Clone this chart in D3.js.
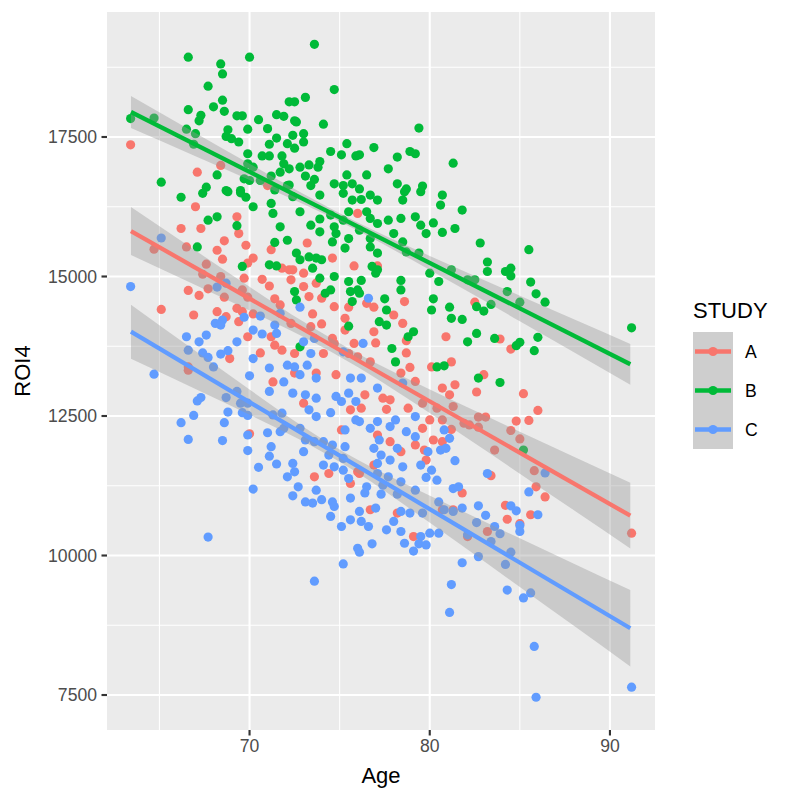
<!DOCTYPE html>
<html>
<head>
<meta charset="utf-8">
<script src="https://cdn.jsdelivr.net/npm/d3@7"></script>
<style>
  body { margin: 0; background: #fff; }
  text { font-family: "Liberation Sans", Arial, Helvetica, sans-serif; }
</style>
</head>
<body>
<div id="container"></div>
<script>
// Study A, B, C points as [Age, ROI4]
const pointsA = [
  [63.4,17360],[67.1,16870],[68.4,16990],[71.0,16630],[82.5,14540],[83.9,13880],[84.5,13700],
  [83.0,13240],[82.6,12930],[85.2,12900],[86.0,12600],[82.7,12480],[83.1,12480],[84.8,12410],
  [85.5,12420],[84.5,12240],[82.7,12300],[85.0,12090],[83.6,11890],[85.8,11520],[83.4,11430],
  [85.9,11230],[86.4,11050],[84.2,10900],[84.3,10650],[85.6,10730],[91.2,10400],[83.2,10430],
  [85.0,10570],[70.0,12180],[71.3,13110],[66.6,13320],[67.0,16250],[66.2,15860],[67.3,15860],
  [69.3,16070],[69.4,15770],[68.6,15640],[68.2,15470],[68.5,15310],[66.5,15530],[64.7,15490],
  [69.8,15560],[70.2,15330],[69.9,15240],[67.6,15220],[67.4,15040],[68.4,15000],[69.7,14970],
  [70.7,14950],[71.1,14830],[66.6,14750],[67.2,14660],[67.7,14780],[68.6,14630],[69.6,14760],
  [69.9,14630],[71.4,14600],[65.1,14410],[66.9,14310],[69.3,14430],[69.6,14370],[68.2,14370],
  [68.7,14280],[70.2,14330],[71.7,14490],[71.2,15480],[71.8,15150],[72.2,15120],[69.9,13920],
  [70.6,13630],[71.4,13770],[71.8,13680],[68.9,13530],[66.6,13380],[69.4,14190],[71.2,13920],
  [76.0,16130],[73.2,15600],[74.6,15330],[75.8,15190],[77.1,15190],[72.4,15120],[73.0,15060],
  [72.3,14940],[73.0,14820],[73.7,14880],[73.3,14640],[74.0,14610],[78.6,14550],[74.7,14460],
  [75.5,14450],[76.5,14520],[76.9,14450],[78.0,14310],[73.5,14330],[75.3,14250],[74.0,14150],
  [73.4,14100],[72.3,14160],[74.6,13890],[75.3,14040],[76.9,14010],[77.0,13810],[78.5,14160],
  [78.7,13850],[80.9,13920],[72.5,13620],[74.1,13620],[76.0,13560],[76.7,13470],[78.7,13630],
  [81.2,13470],[78.9,13370],[80.1,13380],[75.5,13620],[75.8,13800],[74.7,13800],[72.5,13270],
  [73.7,13270],[74.8,13240],[78.4,13270],[79.2,13120],[80.7,13000],[81.4,13060],[81.1,12880],
  [76.4,12880],[77.4,12820],[77.8,12790],[79.6,12730],[80.4,12640],[80.7,12430],[81.3,12670],
  [81.9,12370],[82.2,12340],[73.0,12730],[75.6,12610],[76.2,12640],[77.6,12620],[78.8,12640],
  [79.6,12280],[80.0,12430],[81.2,12260],[80.2,12070],[80.7,12040],[79.2,11980],[77.1,12160],
  [77.8,12040],[78.4,11860],[79.7,11890],[79.8,11710],[75.1,12250],[74.4,11470],[76.0,11500],
  [76.1,11470],[76.9,11620],[73.6,11410],[75.6,11290],[76.7,10820],[78.2,10760],[80.7,10820],
  [81.3,10820],[81.8,11120],[79.1,10340],[82.1,10340]
];
const pointsB = [
  [66.6,18930],[70.0,18930],[68.4,18810],[68.5,18630],[67.7,18410],[68.5,18160],[68.0,18040],
  [68.6,17960],[66.6,17990],[67.3,17890],[67.2,17790],[69.3,17880],[69.6,17880],[70.5,17810],
  [71.5,17900],[71.9,17870],[72.2,18130],[63.4,17830],[64.7,17840],[66.5,17640],[67.0,17560],
  [66.9,17370],[69.9,17640],[68.8,17630],[68.7,17510],[69.0,17470],[69.4,17410],[71.0,17650],
  [71.5,17480],[71.1,17370],[72.1,17380],[69.9,17200],[70.7,17160],[71.1,17160],[71.8,17160],
  [71.9,17020],[69.9,17020],[70.2,16960],[71.7,16870],[72.2,16930],[68.2,16820],[69.7,16750],
  [70.0,16720],[71.2,16800],[65.1,16690],[67.6,16600],[68.7,16540],[69.5,16540],[70.6,16720],
  [72.1,16630],[73.6,19160],[74.7,18350],[73.1,18210],[72.5,18130],[72.5,17790],[72.6,17770],
  [74.1,17730],[79.4,17660],[72.4,17530],[73.0,17560],[73.0,17410],[72.5,17300],[75.4,17380],
  [74.5,17240],[75.1,17180],[75.9,17160],[76.1,17180],[76.9,17310],[78.2,17140],[78.9,17240],
  [79.2,17200],[81.3,17030],[72.8,16960],[73.3,17000],[73.9,17060],[73.8,16960],[77.7,16930],
  [76.5,16820],[75.4,16820],[73.1,16800],[73.6,16740],[74.7,16660],[75.2,16630],[75.7,16660],
  [76.1,16570],[78.2,16660],[78.7,16570],[79.6,16620],[73.4,16630],[72.2,16640],[82.8,15600],
  [85.5,15480],[83.2,15260],[83.2,15090],[84.2,15090],[84.5,15150],[84.5,15010],[85.6,14900],
  [85.9,14690],[86.4,14540],[84.3,14730],[85.0,14540],[82.5,14940],[82.6,14460],[83.0,14380],
  [83.4,14500],[91.2,14080],[82.6,13980],[83.6,13890],[86.0,13910],[84.8,13760],[85.0,13820],
  [85.8,13670],[82.7,13180],[83.9,13100],[85.2,11890],[66.2,16420],[67.4,16490],[68.8,16520],
  [69.5,16500],[69.8,16420],[70.2,16250],[67.7,16010],[68.2,16070],[69.3,15910],[67.1,15530],
  [69.6,15180],[71.2,16310],[71.3,16130],[71.7,15890],[71.4,15610],[72.1,15650],[71.1,15210],
  [71.5,15190],[71.4,16550],[72.4,16430],[73.9,16460],[75.2,16490],[75.7,16370],[76.2,16380],
  [76.7,16460],[77.1,16370],[78.5,16370],[78.6,16520],[79.5,16520],[80.7,16460],[80.6,16280],
  [81.8,16190],[72.8,16160],[73.4,15920],[73.9,16030],[74.5,16100],[74.7,15890],[75.2,16010],
  [75.5,16160],[76.5,16160],[76.7,16040],[77.1,15950],[77.7,16010],[78.4,16040],[79.2,16070],
  [79.5,15920],[79.8,15770],[80.2,15960],[80.7,15790],[81.4,15860],[73.9,15800],[74.8,15770],
  [75.5,15680],[76.1,15830],[76.7,15680],[78.0,15770],[78.5,15620],[78.7,15440],[79.4,15420],
  [74.6,15620],[75.3,15510],[76.7,15530],[77.1,15420],[72.6,15420],[73.3,15350],[73.7,15330],
  [74.0,15300],[72.8,15300],[73.5,15150],[73.9,14970],[74.7,15000],[76.8,15180],[77.1,15120],
  [77.0,15060],[75.5,14910],[76.2,14930],[78.4,14930],[78.4,14760],[80.0,15060],[80.5,14910],
  [81.2,15120],[82.1,14940],[75.6,14730],[76.0,14760],[74.5,14760],[74.2,14700],[75.7,14550],
  [76.1,14700],[72.5,14730],[72.6,14580],[77.5,14600],[77.6,14400],[80.2,14600],[80.1,14400],
  [81.1,14450],[81.2,14250],[81.8,14230],[77.2,14190],[77.6,14130],[75.5,14110],[79.1,14010],
  [78.8,13920],[82.1,13830],[77.9,13710],[78.1,13470],[80.4,13380],[80.8,13400],[72.8,13740]
];
const pointsC = [
  [83.2,11470],[86.4,11480],[85.5,11140],[82.7,10890],[84.5,10890],[84.8,10800],[86.0,10730],
  [83.1,10720],[85.0,10540],[85.0,10430],[83.6,10520],[83.9,10390],[83.4,10250],[82.6,10590],
  [82.7,9980],[84.2,9840],[84.5,10060],[84.3,9380],[85.2,9240],[85.6,9330],[85.8,8370],
  [85.9,7460],[91.2,7640],[73.6,9540],[75.2,9850],[76.1,10060],[79.1,10080],[81.8,9870],
  [81.2,9480],[81.1,8980],[64.7,13250],[67.1,12770],[67.3,12830],[66.9,12510],[66.2,12380],
  [66.6,12080],[68.7,12830],[68.8,12570],[68.6,12380],[68.5,12060],[69.5,12730],[69.9,12730],
  [70.0,13220],[69.6,12560],[69.9,12510],[69.9,12160],[69.9,11880],[70.5,11580],[71.0,12200],
  [71.2,11950],[71.1,11780],[71.5,11640],[71.7,12220],[71.9,12280],[71.3,12520],[71.8,12550],
  [71.1,12940],[71.9,13110],[72.1,11410],[70.2,11190],[67.7,10330],[69.3,12940],[65.1,15690],
  [63.4,14820],[68.2,14810],[68.7,14880],[66.5,13920],[67.2,13830],[67.6,13950],[68.1,14160],
  [68.5,14220],[68.4,14130],[69.7,14270],[70.2,14040],[70.7,13970],[70.6,14290],[71.7,14340],
  [71.4,14130],[71.5,13980],[69.3,13830],[68.8,13670],[68.4,13610],[67.4,13630],[67.7,13550],
  [66.6,13680],[68.0,13380],[70.2,13530],[71.1,13360],[72.1,13410],[76.6,14610],[72.8,14450],
  [76.3,13800],[75.2,13650],[73.0,13830],[73.4,13620],[73.6,13890],[72.5,13380],[73.2,13410],
  [72.8,13240],[73.7,13180],[75.6,13180],[76.2,13180],[77.1,13000],[78.5,13090],[72.4,12910],
  [73.1,12880],[73.7,12820],[74.8,12850],[75.5,12910],[75.9,12760],[75.1,12760],[73.3,12610],
  [74.5,12560],[73.7,12490],[75.9,12430],[76.1,12400],[77.1,12400],[78.1,12430],[79.2,12490],
  [77.8,12310],[76.7,12280],[75.3,12250],[72.8,12280],[80.8,12250],[78.7,12220],[79.2,12130],
  [81.1,12100],[73.1,12070],[73.6,12040],[74.1,12040],[74.6,11980],[75.3,11950],[77.2,12070],
  [78.2,11920],[76.9,11920],[79.9,11860],[80.6,11890],[80.9,11920],[73.0,11860],[74.4,11800],
  [75.2,11740],[77.3,11800],[77.8,11710],[81.4,11700],[72.4,11650],[74.1,11620],[74.7,11590],
  [77.1,11650],[78.5,11590],[79.5,11620],[72.5,11500],[75.2,11530],[80.1,11530],[75.5,11380],
  [77.1,11470],[77.7,11410],[79.8,11400],[80.4,11350],[72.7,11230],[73.7,11170],[76.5,11230],
  [77.4,11260],[78.4,11320],[79.2,11170],[81.3,11200],[81.6,11230],[72.4,11070],[73.1,10960],
  [73.5,10940],[74.0,11000],[74.6,10960],[74.7,10880],[75.6,11030],[76.4,11120],[77.3,11100],
  [78.2,11100],[80.5,10960],[80.8,10820],[81.8,10850],[81.3,10790],[74.5,10700],[75.6,10640],
  [76.1,10790],[77.0,10850],[78.4,10790],[78.9,10760],[79.6,10760],[76.2,10610],[78.0,10610],
  [75.1,10520],[76.6,10520],[77.6,10460],[78.4,10430],[79.5,10340],[80.0,10400],[80.5,10400],
  [82.1,10370],[78.6,10220],[79.4,10210],[79.8,10190],[76.0,10130],[76.8,10210]
];

// lm fits (ends) and half width of the 95% band
const fitAges = [63.42, 91.13];
const fitA = [15815, 10714];
const fitB = [17948, 13427];
const fitC = [14011, 8696];
const bandAges = [63.42, 67, 70, 73, 76, 79, 82, 85, 88, 91.13];
const bandA = [430, 309, 213, 136, 122, 184, 276, 376, 479, 588];
const bandB = [287, 208, 145, 92, 73, 108, 165, 229, 296, 365];
const bandC = [484, 340, 226, 131, 118, 205, 317, 437, 557, 685];

const studies = ["A", "B", "C"];
const colors = ["#F8766D", "#00BA38", "#619CFF"];
const xTicks = [70, 80, 90];
const xMinor = [65, 75, 85];
const yTicks = [7500, 10000, 12500, 15000, 17500];
const yMinor = [8750, 11250, 13750, 16250, 18750];

const series = [
  { key: "A", pts: pointsA, fit: fitA, band: bandA },
  { key: "B", pts: pointsB, fit: fitB, band: bandB },
  { key: "C", pts: pointsC, fit: fitC, band: bandC }
];

const panel = { left: 107, top: 12, right: 655, bottom: 730 };

const svg = d3.select("#container").append("svg")
  .attr("width", 800)
  .attr("height", 800);

const x = d3.scaleLinear().domain([62.09, 92.5]).range([panel.left, panel.right]);
const y = d3.scaleLinear().domain([6873, 19740]).range([panel.bottom, panel.top]);
const color = d3.scaleOrdinal().domain(studies).range(colors);

svg.append("rect")
  .attr("x", panel.left).attr("y", panel.top)
  .attr("width", panel.right - panel.left).attr("height", panel.bottom - panel.top)
  .attr("fill", "#EBEBEB");

// grid
const grid = svg.append("g");
grid.selectAll(".xminor").data(xMinor).enter().append("line")
  .attr("x1", d => x(d)).attr("x2", d => x(d))
  .attr("y1", panel.top).attr("y2", panel.bottom)
  .attr("stroke", "#fff").attr("stroke-width", 1.07);
grid.selectAll(".yminor").data(yMinor).enter().append("line")
  .attr("y1", d => y(d)).attr("y2", d => y(d))
  .attr("x1", panel.left).attr("x2", panel.right)
  .attr("stroke", "#fff").attr("stroke-width", 1.07);
grid.selectAll(".xmajor").data(xTicks).enter().append("line")
  .attr("x1", d => x(d)).attr("x2", d => x(d))
  .attr("y1", panel.top).attr("y2", panel.bottom)
  .attr("stroke", "#fff").attr("stroke-width", 2.13);
grid.selectAll(".ymajor").data(yTicks).enter().append("line")
  .attr("y1", d => y(d)).attr("y2", d => y(d))
  .attr("x1", panel.left).attr("x2", panel.right)
  .attr("stroke", "#fff").attr("stroke-width", 2.13);

// points
series.forEach(s => {
  svg.append("g").selectAll("circle")
    .data(s.pts)
    .enter().append("circle")
    .attr("cx", d => x(d[0]))
    .attr("cy", d => y(d[1]))
    .attr("r", 4.6)
    .attr("fill", color(s.key));
});

// smooth: ribbon then line, per study
series.forEach(s => {
  const fitAt = a => s.fit[0] + (s.fit[1] - s.fit[0]) * (a - fitAges[0]) / (fitAges[1] - fitAges[0]);
  const area = d3.area()
    .curve(d3.curveMonotoneX)
    .x((d, i) => x(bandAges[i]))
    .y0((d, i) => y(fitAt(bandAges[i]) - d))
    .y1((d, i) => y(fitAt(bandAges[i]) + d));
  svg.append("path")
    .datum(s.band)
    .attr("d", area)
    .attr("fill", "#999999")
    .attr("fill-opacity", 0.4);
  svg.append("line")
    .attr("x1", x(fitAges[0])).attr("y1", y(s.fit[0]))
    .attr("x2", x(fitAges[1])).attr("y2", y(s.fit[1]))
    .attr("stroke", color(s.key))
    .attr("stroke-width", 4.27);
});

// axes
const tickCol = "#333333";
const labCol = "#4D4D4D";
svg.append("g").selectAll("line").data(yTicks).enter().append("line")
  .attr("x1", panel.left - 5.5).attr("x2", panel.left)
  .attr("y1", d => y(d)).attr("y2", d => y(d))
  .attr("stroke", tickCol).attr("stroke-width", 2.13);
svg.append("g").selectAll("text").data(yTicks).enter().append("text")
  .attr("x", panel.left - 10)
  .attr("y", d => y(d))
  .attr("dy", "0.35em")
  .attr("text-anchor", "end")
  .attr("font-size", 17.6)
  .attr("fill", labCol)
  .text(d => d);
svg.append("g").selectAll("line").data(xTicks).enter().append("line")
  .attr("y1", panel.bottom).attr("y2", panel.bottom + 5.5)
  .attr("x1", d => x(d)).attr("x2", d => x(d))
  .attr("stroke", tickCol).attr("stroke-width", 2.13);
svg.append("g").selectAll("text").data(xTicks).enter().append("text")
  .attr("x", d => x(d))
  .attr("y", panel.bottom + 16)
  .attr("dy", "0.35em")
  .attr("text-anchor", "middle")
  .attr("font-size", 17.6)
  .attr("fill", labCol)
  .text(d => d);

svg.append("text")
  .attr("x", (panel.left + panel.right) / 2)
  .attr("y", 775)
  .attr("dy", "0.35em")
  .attr("text-anchor", "middle")
  .attr("font-size", 22)
  .text("Age");
svg.append("text")
  .attr("transform", `translate(22,${(panel.top + panel.bottom) / 2}) rotate(-90)`)
  .attr("dy", "0.35em")
  .attr("text-anchor", "middle")
  .attr("font-size", 22)
  .text("ROI4");

// legend
const legend = svg.append("g").attr("transform", "translate(693,0)");
legend.append("text")
  .attr("x", 0).attr("y", 310)
  .attr("dy", "0.35em")
  .attr("font-size", 22)
  .text("STUDY");
const keyH = 39, keyW = 40, key0 = 332;
studies.forEach((s, i) => {
  const g = legend.append("g").attr("transform", `translate(0,${key0 + i * keyH})`);
  g.append("rect").attr("width", keyW).attr("height", keyH).attr("fill", "#F2F2F2");
  g.append("rect").attr("width", keyW).attr("height", keyH).attr("fill", "#999999").attr("fill-opacity", 0.4);
  g.append("line")
    .attr("x1", 2).attr("x2", keyW - 2)
    .attr("y1", keyH / 2).attr("y2", keyH / 2)
    .attr("stroke", color(s)).attr("stroke-width", 4.27);
  g.append("circle").attr("cx", keyW / 2).attr("cy", keyH / 2).attr("r", 4.6).attr("fill", color(s));
  g.append("text")
    .attr("x", keyW + 12).attr("y", keyH / 2)
    .attr("dy", "0.35em")
    .attr("font-size", 17.6)
    .text(s);
});
</script>
</body>
</html>
